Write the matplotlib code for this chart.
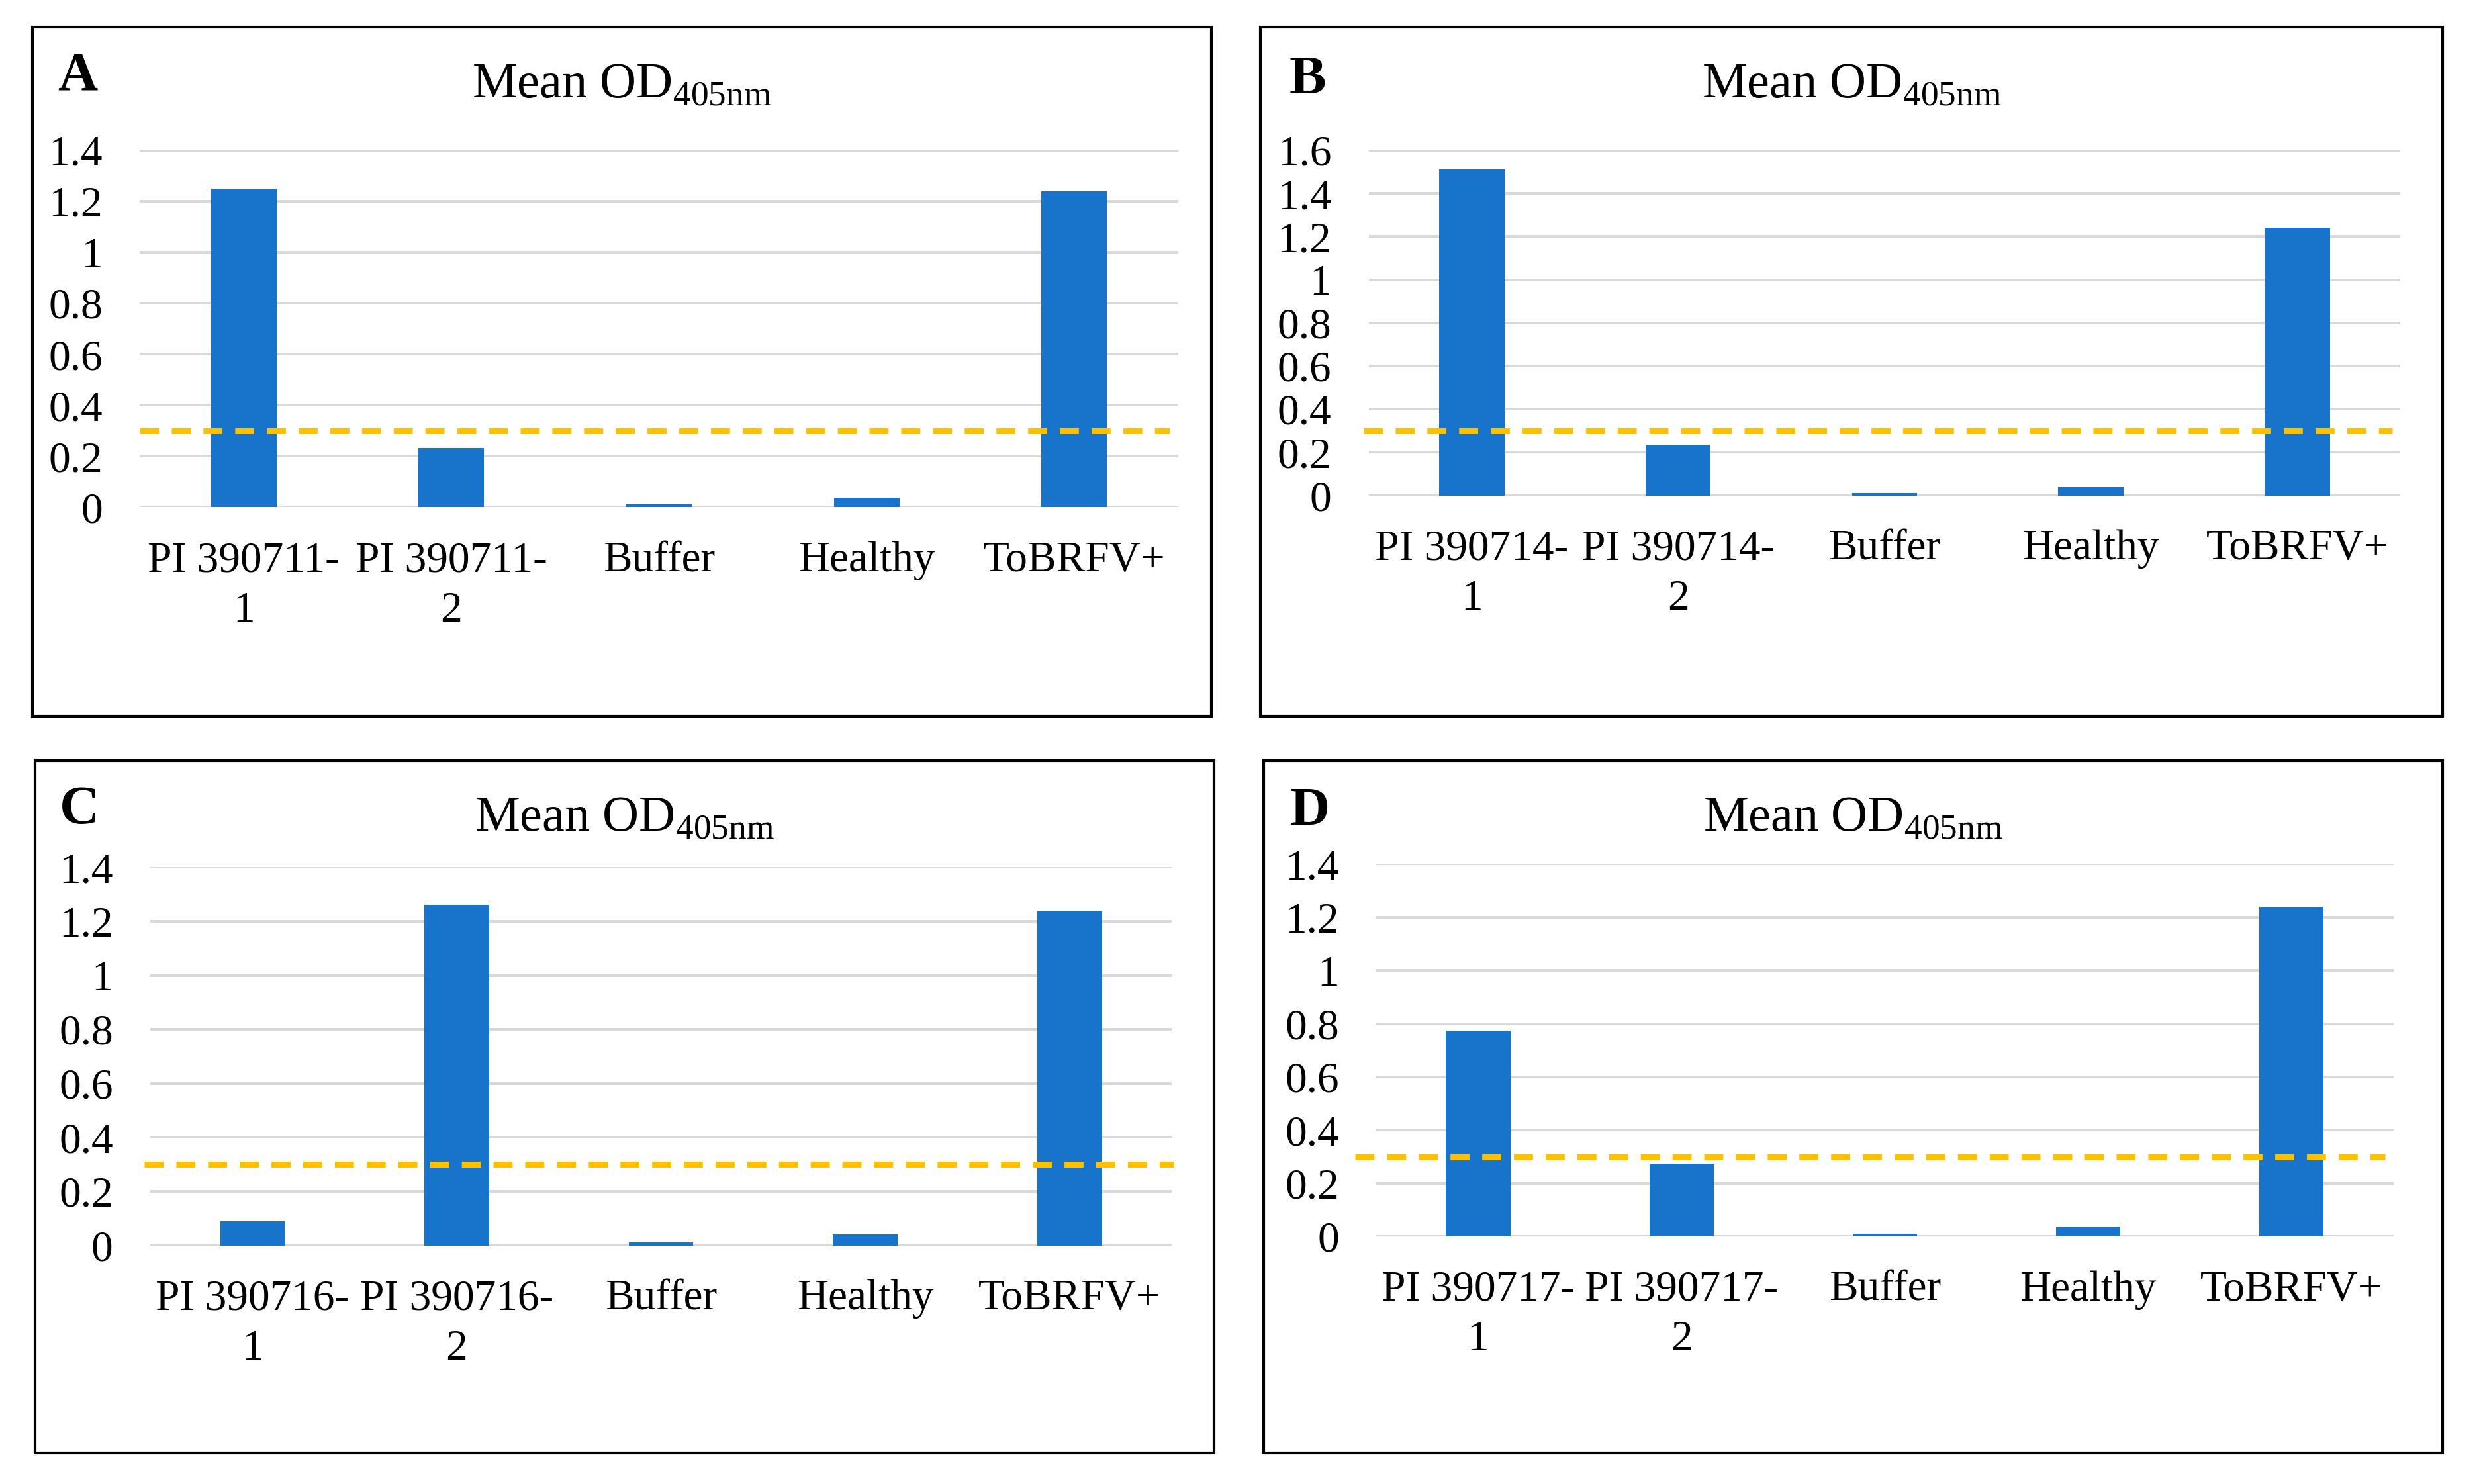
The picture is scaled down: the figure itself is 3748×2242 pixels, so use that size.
import numpy as np
import matplotlib
matplotlib.use("Agg")
import matplotlib.pyplot as plt
from matplotlib.patches import Rectangle

plt.rcParams['font.family'] = ['Liberation Serif', 'DejaVu Serif']
plt.rcParams['mathtext.fontset'] = 'custom'
plt.rcParams['mathtext.rm'] = 'Liberation Serif'
plt.rcParams['lines.scale_dashes'] = False

# ---- data ----
panel_letters = ["A", "B", "C", "D"]
categories_A = ["PI 390711-\n1", "PI 390711-\n2", "Buffer", "Healthy", "ToBRFV+"]
categories_B = ["PI 390714-\n1", "PI 390714-\n2", "Buffer", "Healthy", "ToBRFV+"]
categories_C = ["PI 390716-\n1", "PI 390716-\n2", "Buffer", "Healthy", "ToBRFV+"]
categories_D = ["PI 390717-\n1", "PI 390717-\n2", "Buffer", "Healthy", "ToBRFV+"]
values_A = [1.25, 0.232, 0.011, 0.037, 1.24]
values_B = [1.51, 0.236, 0.011, 0.039, 1.24]
values_C = [0.091, 1.26, 0.012, 0.040, 1.24]
values_D = [0.775, 0.275, 0.011, 0.037, 1.24]
ymax_A, ymax_B, ymax_C, ymax_D = 1.4, 1.6, 1.4, 1.4
threshold = 0.3
title_text = "Mean OD$_{\\mathrm{405nm}}$"

W, H = 3748, 2242
DPI = 300
fig = plt.figure(figsize=(W / DPI, H / DPI), dpi=DPI)

def rect(x0, y0, x1, y1):
    return [x0 / W, 1 - y1 / H, (x1 - x0) / W, (y1 - y0) / H]

panels = [
    dict(letter=panel_letters[0], cats=categories_A, vals=values_A, ymax=ymax_A,
         box=(49, 41, 1830, 1082), ax=(211.4, 227.1, 1779.7, 766.4),
         letter_xy=(87, 136), title_y=146.4, dash_span=(0.0, 0.992)),
    dict(letter=panel_letters[1], cats=categories_B, vals=values_B, ymax=ymax_B,
         box=(1904, 41, 3690, 1082), ax=(2067.5, 227.1, 3626.3, 748.6),
         letter_xy=(1948, 140.7), title_y=146.4, dash_span=(-0.005, 0.992)),
    dict(letter=panel_letters[2], cats=categories_C, vals=values_C, ymax=ymax_C,
         box=(53, 1149, 1834, 2195), ax=(227, 1310.3, 1770.2, 1881.7),
         letter_xy=(89.6, 1243.9), title_y=1255.3, dash_span=(-0.006, 1.002)),
    dict(letter=panel_letters[3], cats=categories_D, vals=values_D, ymax=ymax_D,
         box=(1909, 1149, 3690, 2195), ax=(2079.4, 1305.3, 3615.5, 1868.1),
         letter_xy=(1948, 1246), title_y=1255.3, dash_span=(-0.021, 0.992)),
]

BAR_COLOR = "#1874CA"
GRID_COLOR = "#D9D9D9"
DASH_COLOR = "#FFC000"

for p in panels:
    bx0, by0, bx1, by1 = p["box"]
    fig.patches.append(Rectangle((bx0 / W, 1 - by1 / H), (bx1 - bx0) / W, (by1 - by0) / H,
                                 transform=fig.transFigure, fill=False,
                                 edgecolor="black", linewidth=1.0, zorder=10))
    ax = fig.add_axes(rect(*p["ax"]))
    x = np.arange(len(p["cats"]))
    ax.bar(x, p["vals"], width=0.316, color=BAR_COLOR, zorder=2)
    ax.axhline(threshold, xmin=p["dash_span"][0], xmax=p["dash_span"][1],
               color=DASH_COLOR, linewidth=2.15, dashes=(6.9, 4.6),
               clip_on=False, zorder=3)
    ax.set_xlim(-0.5, len(p["cats"]) - 0.5)
    ax.set_ylim(0, p["ymax"])
    yt = np.round(np.arange(0, p["ymax"] + 0.001, 0.2), 1)
    ax.set_yticks(yt)
    ax.set_yticklabels([f"{v:g}" for v in yt])
    ax.set_xticks(x)
    ax.set_xticklabels(p["cats"], linespacing=1.35)
    ax.tick_params(axis="y", length=0, pad=13.5, labelsize=15.7)
    ax.tick_params(axis="x", length=0, pad=12.3, labelsize=15.7)
    for s in ax.spines.values():
        s.set_visible(False)
    ax.yaxis.grid(True, color=GRID_COLOR, linewidth=0.96)
    ax.set_axisbelow(True)
    # title and letter
    fig.text((bx0 + bx1) / 2 / W, 1 - p["title_y"] / H, title_text,
             ha="center", va="baseline", fontsize=18.3)
    fig.text(p["letter_xy"][0] / W, 1 - p["letter_xy"][1] / H, p["letter"],
             ha="left", va="baseline", fontsize=20, fontweight="bold")

fig.savefig("out.png", dpi=DPI, facecolor="white")
